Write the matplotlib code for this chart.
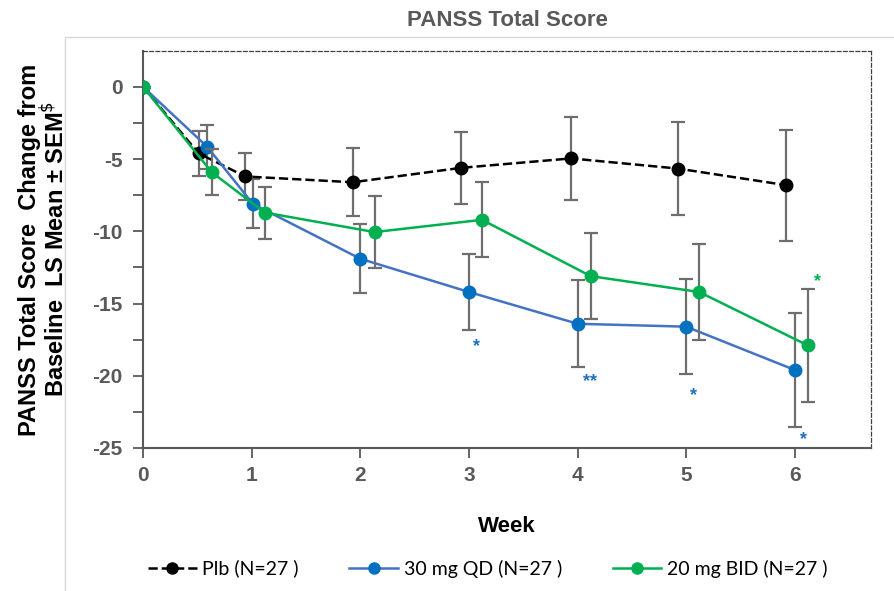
import numpy as np
import matplotlib.pyplot as plt
from matplotlib.patches import Rectangle
from matplotlib.lines import Line2D

plt.rcParams["font.family"] = ["Liberation Sans", "DejaVu Sans"]
plt.rcParams["axes.unicode_minus"] = False

# values (LS mean change from baseline, SEM)
plb_x = [0, 0.51, 0.94, 1.93, 2.93, 3.94, 4.92, 5.92]
plb_y = [0, -4.6, -6.2, -6.6, -5.6, -4.95, -5.65, -6.8]
plb_err = [0, 1.55, 1.65, 2.35, 2.5, 2.9, 3.2, 3.85]

qd_x = [0, 0.59, 1.01, 2.0, 3.0, 4.0, 5.0, 6.0]
qd_y = [0, -4.15, -8.1, -11.9, -14.2, -16.4, -16.6, -19.6]
qd_err = [0, 1.5, 1.7, 2.4, 2.6, 3.0, 3.3, 3.95]

bid_x = [0, 0.63, 1.12, 2.13, 3.12, 4.12, 5.12, 6.12]
bid_y = [0, -5.9, -8.7, -10.05, -9.2, -13.1, -14.2, -17.9]
bid_err = [0, 1.6, 1.8, 2.5, 2.6, 3.0, 3.3, 3.9]

# significance marks
star_x = [3.07, 4.11, 5.07, 6.08, 6.21]
star_y = [-18.0, -20.4, -21.4, -24.4, -13.5]
star_txt = ["*", "**", "*", "*", "*"]
star_col = ["#1f6fbf", "#1f6fbf", "#1f6fbf", "#1f6fbf", "#00b050"]

labels = ["Plb (N=27 )", "30 mg QD (N=27 )", "20 mg BID (N=27 )"]

fig = plt.figure(figsize=(8.95, 5.91), dpi=100)
ax = fig.add_axes([0.16, 0.242, 0.813, 0.672])

# outer chart frame
fig.patches.append(Rectangle((0.073, -0.1), 1.0, 1.037, transform=fig.transFigure,
                             fill=False, edgecolor="#d9d9d9", linewidth=1.0))

ecol = "#6e6e6e"
ax.errorbar(plb_x, plb_y, yerr=plb_err, color="black", ls="--", lw=1.8, marker="o", ms=9,
            ecolor=ecol, elinewidth=1.6, capsize=5, capthick=1.6, zorder=3)
ax.errorbar(qd_x, qd_y, yerr=qd_err, color="#4472c4", lw=1.8, marker="o", ms=9,
            mfc="#0070c0", mec="#0070c0", ecolor=ecol, elinewidth=1.6, capsize=5, capthick=1.6,
            zorder=3)
ax.errorbar(bid_x, bid_y, yerr=bid_err, color="#00b050", lw=1.8, marker="o", ms=9,
            ecolor=ecol, elinewidth=1.6, capsize=5, capthick=1.6, zorder=4)

for x, y, t, c in zip(star_x, star_y, star_txt, star_col):
    ax.text(x, y, t, color=c, fontsize=13, fontweight="bold", ha="center", va="center")

ax.set_xlim(0, 6.7)
ax.set_ylim(-25, 2.5)
ax.set_xticks(range(7))
ax.set_yticks([0, -5, -10, -15, -20, -25])
ax.set_yticks(np.arange(-22.5, 2.5, 5), minor=True)
ax.tick_params(axis="both", which="both", direction="out", color="#595959", width=1.3)
ax.tick_params(axis="y", which="both", length=7, pad=8)
ax.tick_params(axis="x", length=7, pad=6)
for lab in ax.get_xticklabels() + ax.get_yticklabels():
    lab.set_fontweight("bold")
    lab.set_fontsize(15)
    lab.set_color("#595959")

for s in ["left", "bottom"]:
    ax.spines[s].set_color("#595959")
    ax.spines[s].set_linewidth(1.5)
for s in ["top", "right"]:
    ax.spines[s].set_color("#404040")
    ax.spines[s].set_linestyle((0, (3, 2)))
    ax.spines[s].set_linewidth(0.9)

ax.set_title("PANSS Total Score", fontsize=16, fontweight="bold", color="#595959", pad=18)
ax.set_xlabel("Week", fontsize=16, fontweight="bold", labelpad=22)
ax.set_ylabel("PANSS Total Score  Change from\nBaseline  LS Mean \u00b1 SEM$^{\\$}$",
              fontsize=17, fontweight="bold", labelpad=16, linespacing=1.0)

handles = [
    Line2D([], [], color="black", ls="--", lw=1.8, marker="o", ms=8),
    Line2D([], [], color="#4472c4", lw=1.8, marker="o", ms=8, mfc="#0070c0", mec="#0070c0"),
    Line2D([], [], color="#00b050", lw=1.8, marker="o", ms=8),
]
fig.legend(handles, labels, loc="center", bbox_to_anchor=(0.545, 0.038), ncol=3, frameon=False,
           prop={"family": "Lato", "size": 14}, handlelength=2.5, columnspacing=2.6,
           handletextpad=0.3)

fig.savefig("out.png", dpi=100)
